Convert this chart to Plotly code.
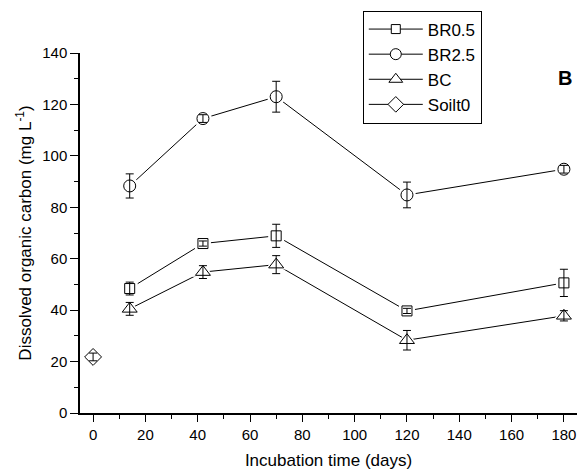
import plotly.graph_objects as go

# Incubation sampling days
days = [14, 42, 70, 120, 180]
soil_day = [0]

# Dissolved organic carbon (mg L-1) and standard errors
br05 = [48.4, 65.9, 68.9, 39.7, 50.6]
br05_err = [2.5, 1.0, 4.5, 1.0, 5.3]
br25 = [88.3, 114.5, 123.0, 84.8, 94.8]
br25_err = [4.7, 1.5, 6.0, 5.0, 1.5]
bc = [40.5, 54.8, 57.7, 28.3, 37.8]
bc_err = [2.5, 2.5, 3.5, 3.8, 2.0]
soil0 = [21.8]
soil0_err = [1.5]

series = [
    ("BR0.5", days, br05, br05_err, "square", 10),
    ("BR2.5", days, br25, br25_err, "circle", 12),
    ("BC", days, bc, bc_err, "triangle-up", 13),
    ("Soilt0", soil_day, soil0, soil0_err, "diamond", 13),
]

FONT = "Arial, Liberation Sans, sans-serif"
L, R, T, B = 80, 10, 48, 63
W, H = 587, 476
pw, ph = W - L - R, H - T - B

fig = go.Figure()

# connecting lines
for name, x, y, e, sym, sz in series:
    fig.add_trace(go.Scatter(x=x, y=y, mode="lines", line=dict(color="black", width=1),
                             showlegend=False, hoverinfo="skip"))
# white halo that leaves a small gap between lines and symbols
for name, x, y, e, sym, sz in series:
    fig.add_trace(go.Scatter(x=x, y=y, mode="markers",
                             marker=dict(symbol=sym, size=sz + 6, color="white",
                                         line=dict(width=0)),
                             showlegend=False, hoverinfo="skip"))
# error bars and open symbols
for name, x, y, e, sym, sz in series:
    fig.add_trace(go.Scatter(x=x, y=y, mode="markers",
                             marker=dict(symbol=sym + "-open", size=sz, color="black",
                                         line=dict(width=1)),
                             error_y=dict(type="data", array=e, color="black",
                                          thickness=1, width=4),
                             showlegend=False))
# legend entries
for name, x, y, e, sym, sz in series:
    fig.add_trace(go.Scatter(x=[None], y=[None], mode="lines+markers", name=name,
                             line=dict(color="black", width=1),
                             marker=dict(symbol=sym, size=sz - 1, color="white",
                                         line=dict(color="black", width=1))))

# panel letter, placed in pixels and converted to paper units
fig.add_annotation(text="<b>B</b>", x=(574 - L) / pw, y=(H - B - 60) / ph,
                   xref="paper", yref="paper", showarrow=False,
                   font=dict(size=20, family=FONT, color="black"))

fig.update_layout(
    width=W, height=H,
    margin=dict(l=L, r=R, t=T, b=B),
    paper_bgcolor="white", plot_bgcolor="white",
    font=dict(family=FONT, size=15, color="black"),
    legend=dict(x=0.569, y=1.118, xanchor="left", yanchor="top",
                bordercolor="black", borderwidth=1, bgcolor="white",
                font=dict(size=17), tracegroupgap=0, itemwidth=54),
)
fig.update_xaxes(
    range=[-5, 185], tickmode="linear", tick0=0, dtick=20,
    showgrid=False, zeroline=False, showline=True, linecolor="black", linewidth=1.5,
    ticks="outside", ticklen=7, tickwidth=1, tickcolor="black",
    minor=dict(dtick=10, tick0=0, ticks="outside", ticklen=4, tickcolor="black", showgrid=False),
    title=dict(text="Incubation time (days)", font=dict(size=17), standoff=12),
)
fig.update_yaxes(
    range=[0, 140], tickmode="linear", tick0=0, dtick=20,
    showgrid=False, zeroline=False, showline=True, linecolor="black", linewidth=1.5,
    ticks="outside", ticklen=8, tickwidth=1, tickcolor="black",
    minor=dict(dtick=10, tick0=0, ticks="outside", ticklen=4, tickcolor="black", showgrid=False),
    title=dict(text="Dissolved organic carbon (mg L<sup>-1</sup>)", font=dict(size=17), standoff=6),
)

fig.write_html("out.html")
